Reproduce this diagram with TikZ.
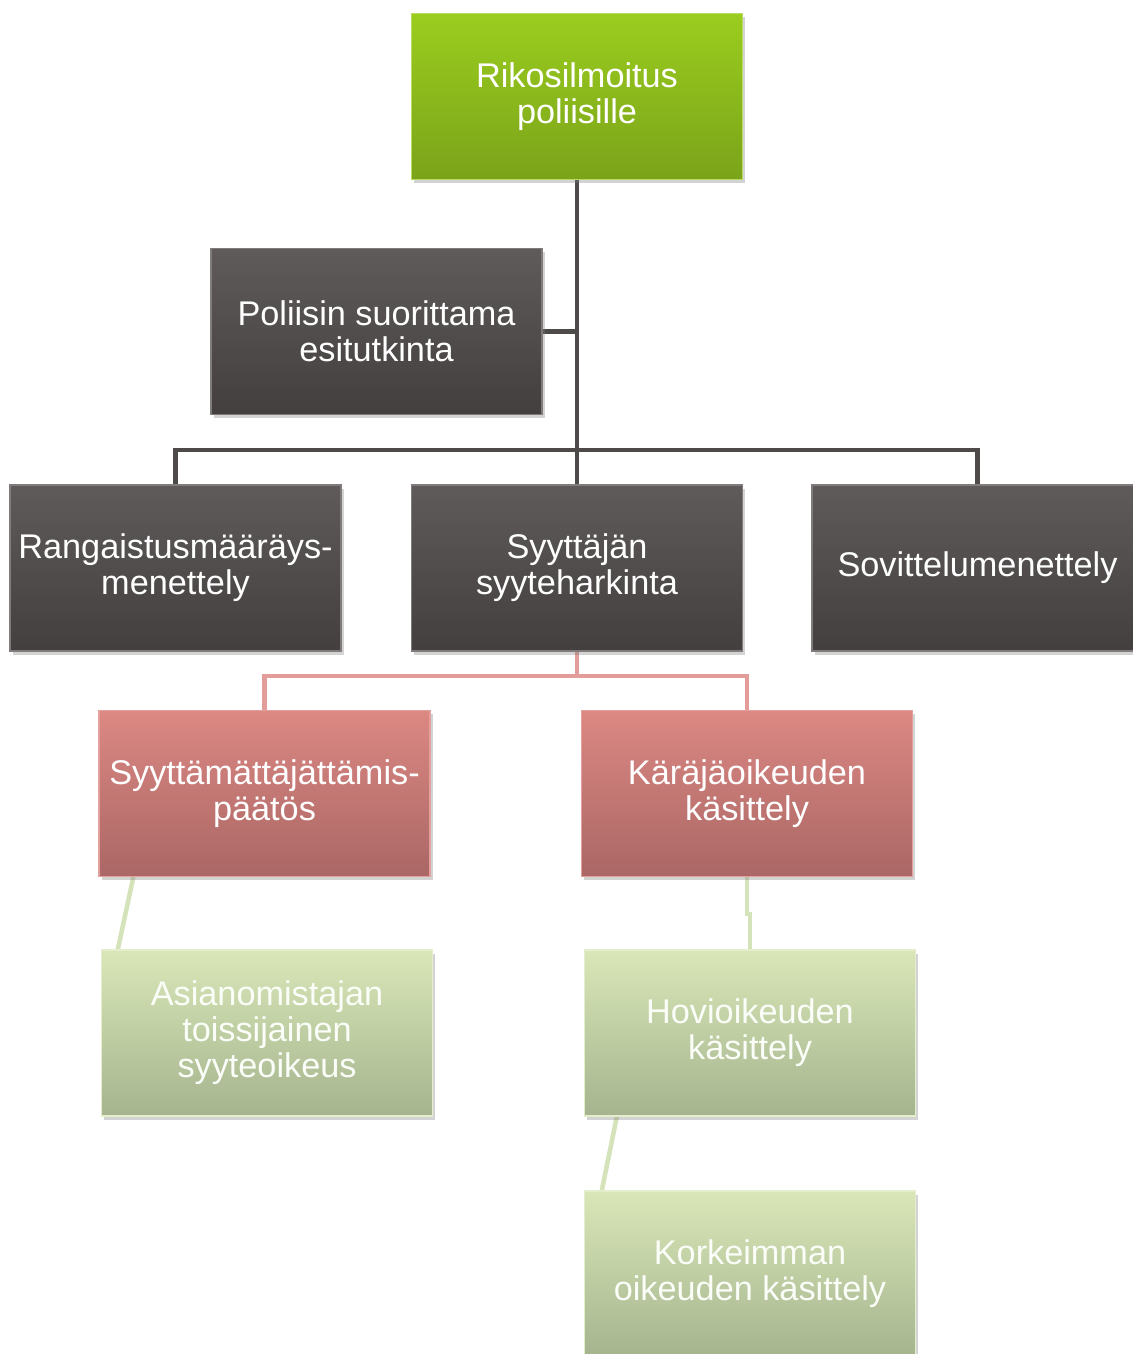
\documentclass[tikz,border=0pt]{standalone}
\usepackage{fontspec}
\setmainfont{Liberation Sans}
\usetikzlibrary{positioning,calc,shadows,backgrounds}

\definecolor{leafgreen}{HTML}{9ACD1E}
\definecolor{leafgreendk}{HTML}{7BA31A}
\definecolor{slate}{HTML}{5F5B5A}
\definecolor{slatedk}{HTML}{433F3F}
\definecolor{rose}{HTML}{DC8883}
\definecolor{rosedk}{HTML}{AA6765}
\definecolor{sage}{HTML}{D9E7B8}
\definecolor{sagedk}{HTML}{A5B48E}
\definecolor{linkgray}{HTML}{4E4A4A}
\definecolor{linkrose}{HTML}{E29C99}
\definecolor{linksage}{HTML}{D5E3BA}

\tikzset{
  box/.style={rectangle, minimum width=6.62cm, minimum height=3.32cm, align=center,
    text=white, font=\fontsize{19.5}{20.5}\selectfont, inner sep=2pt,
    drop shadow={opacity=0.35, shadow xshift=1.5pt, shadow yshift=-2pt}},
  startbox/.style={box, top color=leafgreen, bottom color=leafgreendk, draw=leafgreen!70!white, line width=0.8pt},
  darkbox/.style={box, top color=slate, bottom color=slatedk, draw=slate!80!white, line width=0.8pt},
  rosebox/.style={box, top color=rose, bottom color=rosedk, draw=rose!80!white, line width=0.8pt},
  sagebox/.style={box, top color=sage, bottom color=sagedk, draw=sage!70!white, line width=0.8pt, text=white!90!sage},
  graylink/.style={draw=linkgray, line width=2.6pt},
  roselink/.style={draw=linkrose, line width=2.6pt},
  sagelink/.style={draw=linksage, line width=2.6pt}
}

\begin{document}
\begin{tikzpicture}[x=0.02cm, y=-0.02cm]
    \useasboundingbox (0,0) rectangle (1132,1354);

    \node(ilmoitus)[startbox] at (577,96.5) {Rikosilmoitus\\poliisille};
    \node(esitutk)[darkbox] at (376.5,331.5) {Poliisin suorittama\\esitutkinta};
    \node(rangaistus)[darkbox] at (175.5,568) {Rangaistusmääräys-\\menettely};
    \node(syyte)[darkbox] at (577,568) {Syyttäjän\\syyteharkinta};
    \node(sovittelu)[darkbox] at (977.5,568) {Sovittelumenettely};
    \node(jattamis)[rosebox] at (264.5,793.5) {Syyttämättäjättämis-\\päätös};
    \node(karaja)[rosebox] at (747,793.5) {Käräjäoikeuden\\käsittely};
    \node(asianom)[sagebox] at (267,1033) {Asianomistajan\\toissijainen\\syyteoikeus};
    \node(hovi)[sagebox] at (750,1033) {Hovioikeuden\\käsittely};
    \node(korkein)[sagebox] at (750,1274) {Korkeimman\\oikeuden käsittely};

    \coordinate (hub) at (577,450);
    \coordinate (redbar) at (577,676);

    \begin{scope}[on background layer]
    \draw[graylink] (ilmoitus.south) -- (syyte.north);
    \draw[graylink] (esitutk.east) -- (esitutk.east -| ilmoitus.south);
    \draw[graylink] (rangaistus.north) |- (hub) -| (sovittelu.north);
    \draw[roselink] (syyte.south) -- (redbar);
    \draw[roselink] (jattamis.north) |- (redbar) -| (karaja.north);
    \draw[sagelink] ($(jattamis.south west)+(35,0)$) -- ($(asianom.north west)+(17,0)$);
    \draw[sagelink] (karaja.south) -- ++(0,37) -| (hovi.north);
    \draw[sagelink] ($(hovi.south west)+(33,0)$) -- ($(korkein.north west)+(18,0)$);
    \end{scope}
\end{tikzpicture}
\end{document}
